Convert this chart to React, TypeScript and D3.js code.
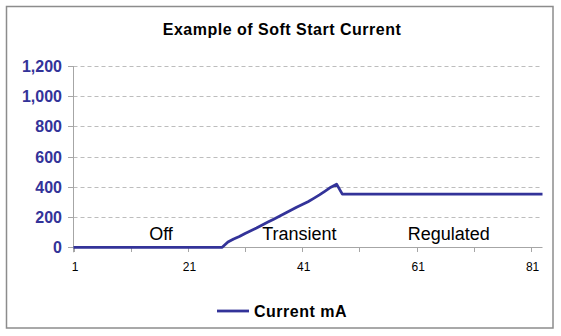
import React from "react";
import * as d3 from "d3";

const categories: number[] = d3.range(1, 84);
const currentValues: number[] = [
  // 1-26 off
  0, 0, 0, 0, 0, 0, 0, 0, 0, 0,
  0, 0, 0, 0, 0, 0, 0, 0, 0, 0,
  0, 0, 0, 0, 0, 0,
  // 27-47 transient
  0, 35, 55, 72, 92, 110, 128, 148, 167, 186,
  205, 225, 245, 265, 283, 302, 324, 347, 372, 398,
  418,
  // 48-83 regulated
  352, 352, 352, 352, 352, 352, 352, 352, 352, 352,
  352, 352, 352, 352, 352, 352, 352, 352, 352, 352,
  352, 352, 352, 352, 352, 352, 352, 352, 352, 352,
  352, 352, 352, 352, 352, 352,
];
const yTicks: number[] = [0, 200, 400, 600, 800, 1000, 1200];
const xTickLabels: number[] = [1, 21, 41, 61, 81];
const xTickMarks: number[] = [1, 11, 21, 31, 41, 51, 61, 71, 81];
const regionLabels: { text: string; at: number }[] = [
  { text: "Off", at: 16.3 },
  { text: "Transient", at: 40.5 },
  { text: "Regulated", at: 66.6 },
];
const title = "Example of Soft Start Current";
const seriesName = "Current mA";

export default function App() {
  const W = 561;
  const H = 336;
  const x = d3.scaleLinear().domain([1, 83]).range([73.5, 542.5]);
  const y = d3.scaleLinear().domain([0, 1200]).range([247.3, 66]);
  const line = d3
    .line<number>()
    .x((_, i) => x(categories[i]))
    .y((d) => y(d));
  const font = "'Liberation Sans', Arial, sans-serif";
  const navy = "#333399";

  return (
    <svg
      width={W}
      height={H}
      style={{ position: "absolute", left: 0, top: 0, background: "#fff" }}
      fontFamily={font}
    >
      <rect x={0} y={0} width={W} height={H} fill="#fff" />
      <rect x={6.5} y={6.5} width={546.5} height={321.5} fill="#fff" stroke="#8c8c8c" strokeWidth={1.5} />
      <text
        x={282}
        y={35}
        textAnchor="middle"
        fontSize={16}
        fontWeight="bold"
        letterSpacing={0.5}
        fill="#000"
      >
        {title}
      </text>

      {/* gridlines */}
      {yTicks.filter((t) => t > 0).map((t) => (
        <line
          key={"g" + t}
          x1={x(1)}
          x2={x(83)}
          y1={Math.round(y(t)) + 0.5}
          y2={Math.round(y(t)) + 0.5}
          stroke="#bdbdbd"
          strokeDasharray="4,3"
          strokeWidth={1}
        />
      ))}

      {/* y axis */}
      <line x1={73.5} x2={73.5} y1={y(1200)} y2={y(0) + 5} stroke="#a6a6a6" strokeWidth={1} />
      {yTicks.map((t) => (
        <g key={"y" + t}>
          <line x1={68} x2={73} y1={Math.round(y(t)) + 0.5} y2={Math.round(y(t)) + 0.5} stroke="#a6a6a6" />
          <text
            x={62}
            y={y(t) + 6}
            textAnchor="end"
            fontSize={16}
            fontWeight="bold"
            fill={navy}
          >
            {d3.format(",")(t)}
          </text>
        </g>
      ))}

      {/* x axis */}
      <line x1={73} x2={x(83)} y1={247.5} y2={247.5} stroke="#a6a6a6" strokeWidth={1} />
      {xTickMarks.map((c) => (
        <line key={"xt" + c} x1={Math.round(x(c)) + 0.5} x2={Math.round(x(c)) + 0.5} y1={247} y2={252} stroke="#a6a6a6" />
      ))}
      {xTickLabels.map((c) => (
        <text key={"xl" + c} x={x(c) + 1.5} y={271} textAnchor="middle" fontSize={12} fill="#000">
          {c}
        </text>
      ))}

      {/* region labels */}
      {regionLabels.map((r) => (
        <text key={r.text} x={x(r.at)} y={239.5} textAnchor="middle" fontSize={18} fill="#000">
          {r.text}
        </text>
      ))}

      {/* series */}
      <path
        d={line(currentValues) || ""}
        fill="none"
        stroke={navy}
        strokeWidth={2.8}
        strokeLinejoin="round"
      />

      {/* legend */}
      <line x1={217} x2={249} y1={311} y2={311} stroke={navy} strokeWidth={2.8} />
      <text x={254} y={317} fontSize={16} fontWeight="bold" letterSpacing={0.5} fill="#000">
        {seriesName}
      </text>
    </svg>
  );
}
